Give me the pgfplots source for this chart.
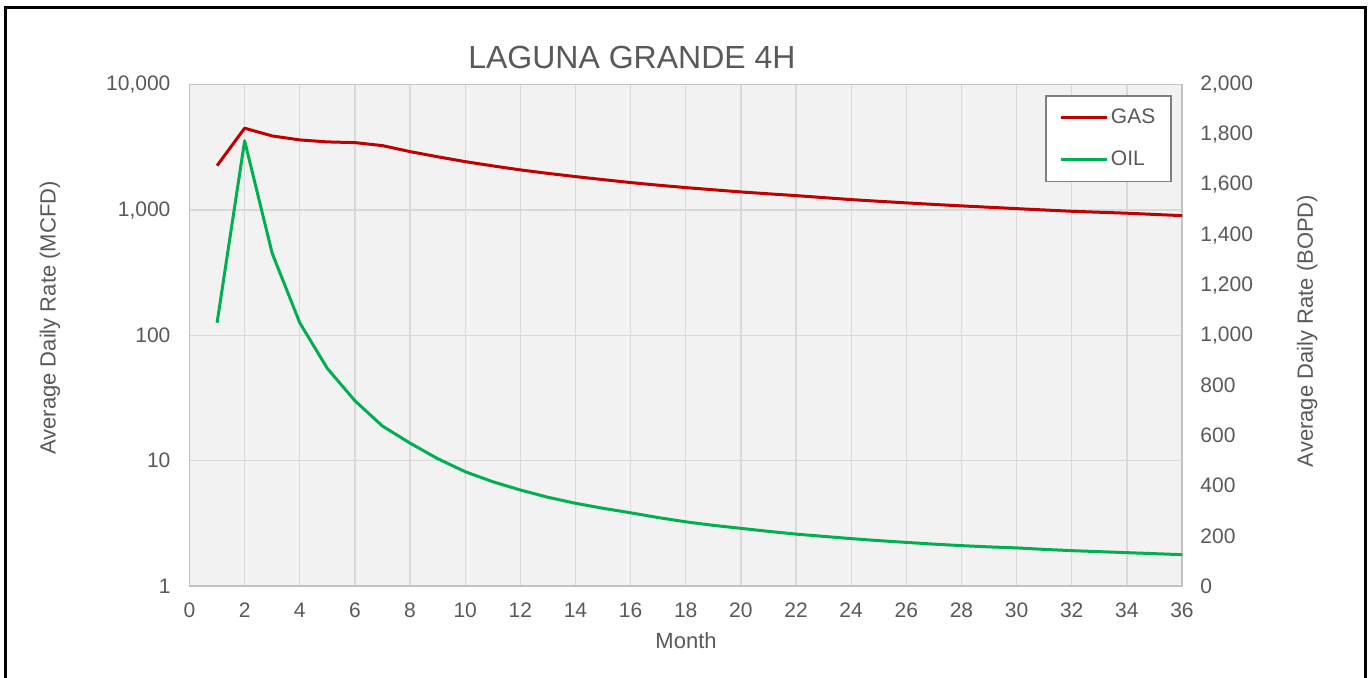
\documentclass[border=0pt]{standalone}
\usepackage{fontspec}
\setmainfont{Liberation Sans}
\usepackage{pgfplots}
\pgfplotsset{compat=1.18}
\definecolor{gasred}{HTML}{C00000}
\definecolor{oilgreen}{HTML}{00B050}
\definecolor{txt}{HTML}{595959}
\definecolor{gridc}{HTML}{D9D9D9}
\definecolor{bgc}{HTML}{F2F2F2}
\definecolor{legc}{HTML}{7F7F7F}

\pgfplotstableread{
m v
1 2260
2 4495
3 3900
4 3625
5 3495
6 3450
7 3265
8 2924
9 2660
10 2433
11 2250
12 2090
13 1960
14 1848
15 1748
16 1656
17 1578
18 1510
19 1450
20 1394
21 1347
22 1303
23 1256
24 1211
25 1174
26 1140
27 1108
28 1079
29 1052
30 1026
31 1001
32 977
33 960
34 943
35 922
36 902
}\gasdata

\pgfplotstableread{
m v
1 1050
2 1776
3 1327
4 1050
5 868
6 739
7 638
8 570
9 508
10 456
11 416
12 383
13 354
14 330
15 310
16 292
17 273
18 256
19 242
20 230
21 218
22 207
23 198
24 189
25 181
26 174
27 167
28 161
29 156
30 152
31 146
32 141
33 137
34 133
35 129
36 125
}\oildata

\begin{document}
\begin{tikzpicture}
\path[use as bounding box] (-94.75pt,-46pt) rectangle (590.75pt,293pt);
\draw[line width=1.5pt] (-92pt,-50pt) -- (-92pt,289.25pt) -- (587.75pt,289.25pt) -- (587.75pt,-50pt);
\begin{axis}[
  scale only axis, width=496.25pt, height=250.65pt,
  at={(0pt,0pt)}, anchor=south west,
  xmin=0, xmax=36, ymode=log, ymin=1, ymax=10000,
  axis background/.style={fill=bgc},
  xtick={0,2,...,36},
  ytick={1,10,100,1000,10000},
  yticklabels={1,10,100,{1,000},{10,000}},
  minor ytick={},
  xmajorgrids, ymajorgrids,
  grid style={gridc, line width=0.65pt},
  axis line style={gridc!90!black, line width=0.7pt},
  major tick length=0pt, minor tick length=0pt,
  /pgf/number format/assume math mode=true,
  ticklabel style={font=\fontsize{10.5}{12}\selectfont, text=txt},
  xticklabel style={yshift=-5pt},
  yticklabel style={xshift=-6pt},
  title={LAGUNA GRANDE 4H},
  title style={at={(axis description cs:0.4458,1.0294)}, anchor=center, font=\fontsize{16}{19}\selectfont, text=txt},
  xlabel={Month},
  xlabel style={at={(axis description cs:0.5003,-0.1097)}, anchor=center, font=\fontsize{11}{13}\selectfont, text=txt},
  ylabel={Average Daily Rate (MCFD)},
  ylabel style={at={(axis description cs:-0.1406,0.5346)}, anchor=center, font=\fontsize{11}{13}\selectfont, text=txt},
]
\addplot[gasred, line width=1.5pt, line join=round] table[x=m, y=v] {\gasdata};
\end{axis}
\begin{axis}[
  scale only axis, width=496.25pt, height=250.65pt,
  at={(0pt,0pt)}, anchor=south west,
  xmin=0, xmax=36, ymin=0, ymax=2000,
  axis x line=none, axis y line*=right,
  y axis line style={draw=none},
  ytick={0,200,...,2000},
  major tick length=0pt,
  /pgf/number format/assume math mode=true,
  /pgf/number format/1000 sep={,},
  ticklabel style={font=\fontsize{10.5}{12}\selectfont, text=txt},
  yticklabel style={xshift=5.7pt},
  ylabel={Average Daily Rate (BOPD)},
  ylabel style={at={(axis description cs:1.126,0.5087)}, anchor=center, font=\fontsize{11}{13}\selectfont, text=txt},
  legend style={at={(axis description cs:0.990,0.979)}, anchor=north east,
    draw=legc, line width=0.8pt, fill=white, font=\fontsize{10.5}{12}\selectfont, text=txt,
    inner xsep=7pt, inner ysep=5.5pt, row sep=10pt,
    nodes={inner sep=1pt}},
  legend cell align=left,
  legend image code/.code={\draw[#1] (0pt,0pt) -- (23pt,0pt);},
]
\addlegendimage{gasred, line width=1.5pt}
\addlegendentry{GAS}
\addplot[oilgreen, line width=1.5pt, line join=round] table[x=m, y=v] {\oildata};
\addlegendentry{OIL}
\end{axis}
\end{tikzpicture}
\end{document}
